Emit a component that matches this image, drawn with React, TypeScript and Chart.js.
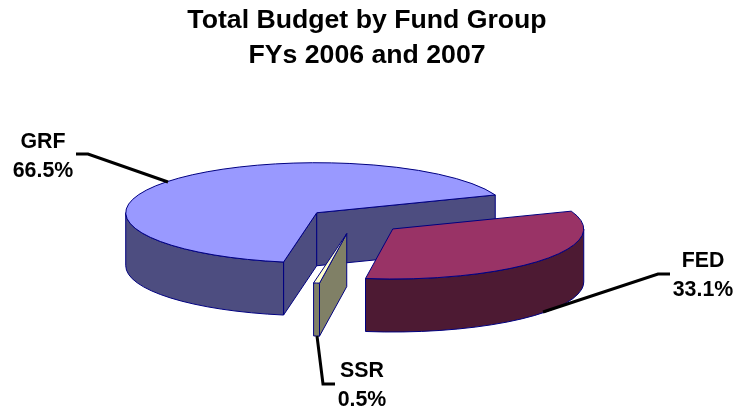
import React, { useEffect, useRef } from "react";
import { Chart, registerables } from "chart.js";

Chart.register(...registerables);

const titleLines = ["Total Budget by Fund Group", "FYs 2006 and 2007"];
const fundGroups = ["GRF", "FED", "SSR"];
const sharePercent = [66.5, 33.1, 0.5];
const topColors = ["#9999FF", "#993366", "#FFFFCC"];
const sideColors = ["#4D4D80", "#4D1A33", "#808066"];
const outlineColor = "#000080";

const SQUASH = 0.262;
const DEPTH = 53;
const FONT = '"Liberation Sans", Arial, sans-serif';
const LABEL_FONT_SIZE = 21.33;
const TITLE_SHIFT_X = 12.5;

// label centre + baselines, and leader polyline for each fund group
const labelPlacement = [
  { x: 43, y1: 148, y2: 177, leader: [[76, 154], [88, 154], [168, 182]] },
  { x: 703, y1: 267, y2: 296, leader: [[670, 274], [658, 274], [543, 312]] },
  { x: 362, y1: 377, y2: 406, leader: [[317, 336], [323, 384], [335, 384]] },
];

const pie3d = {
  id: "pie3d",
  afterLayout(chart: any) {
    if (chart.titleBlock) {
      chart.titleBlock.left += TITLE_SHIFT_X;
      chart.titleBlock.right += TITLE_SHIFT_X;
    }
  },
  beforeDatasetsDraw(chart: any) {
    const ctx: CanvasRenderingContext2D = chart.ctx;
    const arcs = chart.getDatasetMeta(0).data;
    const paintOrder = [0, 2, 1];
    ctx.save();
    ctx.lineWidth = 1;
    ctx.lineJoin = "round";
    ctx.strokeStyle = outlineColor;
    for (const i of paintOrder) {
      const el = arcs[i];
      const R = el.outerRadius;
      const a0 = el.startAngle;
      const a1 = el.endAngle;
      const mid = (a0 + a1) / 2;
      const off = (el.options.offset || 0) / 4;
      const ax = el.x + Math.cos(mid) * off;
      const ay = el.y + Math.sin(mid) * off * SQUASH;
      const rim = (t: number) => [ax + R * Math.cos(t), ay + R * SQUASH * Math.sin(t)];

      const face = (pts: number[][]) => {
        ctx.beginPath();
        pts.forEach((p, k) => (k ? ctx.lineTo(p[0], p[1]) : ctx.moveTo(p[0], p[1])));
        ctx.closePath();
        ctx.fillStyle = sideColors[i];
        ctx.fill();
        ctx.stroke();
      };
      // radial walls that face the viewer
      if (-Math.cos(a0) > 0) {
        const p = rim(a0);
        face([[ax, ay], p, [p[0], p[1] + DEPTH], [ax, ay + DEPTH]]);
      }
      if (Math.cos(a1) > 0) {
        const p = rim(a1);
        face([[ax, ay], p, [p[0], p[1] + DEPTH], [ax, ay + DEPTH]]);
      }
      // outer wall, front half only
      for (const k of [0, 1]) {
        const lo = Math.max(a0, k * 2 * Math.PI);
        const hi = Math.min(a1, Math.PI + k * 2 * Math.PI);
        if (hi > lo) {
          ctx.beginPath();
          ctx.ellipse(ax, ay, R, R * SQUASH, 0, lo, hi);
          ctx.ellipse(ax, ay + DEPTH, R, R * SQUASH, 0, hi, lo, true);
          ctx.closePath();
          ctx.fillStyle = sideColors[i];
          ctx.fill();
          ctx.stroke();
        }
      }
      // top face
      ctx.beginPath();
      ctx.moveTo(ax, ay);
      ctx.ellipse(ax, ay, R, R * SQUASH, 0, a0, a1);
      ctx.closePath();
      ctx.fillStyle = topColors[i];
      ctx.fill();
      ctx.stroke();
    }

    // leaders and labels
    ctx.strokeStyle = "#000000";
    ctx.lineWidth = 3;
    ctx.lineJoin = "miter";
    ctx.fillStyle = "#000000";
    ctx.font = `bold ${LABEL_FONT_SIZE}px ${FONT}`;
    ctx.textAlign = "center";
    ctx.textBaseline = "alphabetic";
    fundGroups.forEach((name, i) => {
      const place = labelPlacement[i];
      ctx.beginPath();
      place.leader.forEach((p, k) => (k ? ctx.lineTo(p[0], p[1]) : ctx.moveTo(p[0], p[1])));
      ctx.stroke();
      ctx.fillText(name, place.x, place.y1);
      ctx.fillText(`${sharePercent[i].toFixed(1)}%`, place.x, place.y2);
    });
    ctx.restore();
    return false;
  },
};

export default function App() {
  const ref = useRef<HTMLCanvasElement>(null);
  useEffect(() => {
    const chart = new Chart(ref.current as HTMLCanvasElement, {
      type: "pie",
      data: {
        labels: fundGroups,
        datasets: [
          {
            data: sharePercent,
            backgroundColor: topColors,
            borderColor: outlineColor,
            borderWidth: 1,
            offset: 196,
          },
        ],
      },
      options: {
        responsive: false,
        animation: false,
        rotation: 190,
        radius: 191,
        layout: { padding: { top: 0, left: 0, right: 25, bottom: 46 } },
        events: [],
        plugins: {
          legend: { display: false },
          tooltip: { enabled: false },
          title: {
            display: true,
            text: titleLines,
            color: "#000000",
            font: { family: FONT, size: 26.67, weight: "bold", lineHeight: 1.31 },
            padding: { top: 3, bottom: 7 },
          },
        },
      },
      plugins: [pie3d],
    } as any);
    return () => chart.destroy();
  }, []);
  return (
    <div style={{ position: "fixed", left: 0, top: 0, width: 734, height: 408, background: "#fff" }}>
      <canvas ref={ref} width={734} height={408} style={{ display: "block" }} />
    </div>
  );
}
